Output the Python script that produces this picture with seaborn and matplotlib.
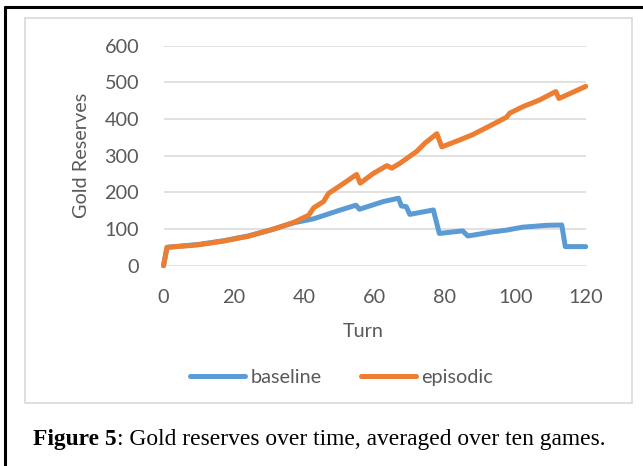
import matplotlib
matplotlib.use("Agg")
import matplotlib.pyplot as plt
import seaborn as sns
import pandas as pd
from matplotlib.lines import Line2D
from matplotlib.patches import Rectangle

# values (turn -> average gold)
baseline_turns = [0, 1, 10, 17, 24, 31, 37, 42.7, 50, 54.7, 55.7, 62.5, 66.8, 67.6, 69, 70,
                  76.7, 78.4, 85, 86.5, 92.7, 97.5, 102, 108.8, 113.2, 114.2, 120]
baseline_gold = [0, 50, 58, 68, 81, 99, 117, 128, 151, 165, 154, 175, 184, 163, 161, 140,
                 152, 88, 95, 81, 91, 97, 105, 110, 111, 52, 52]

episodic_turns = [0, 1, 10, 17, 24, 31, 37, 41.3, 42.7, 45.5, 46.9, 50.5, 54.9, 55.9, 59.7,
                  63.5, 64.9, 67.3, 72, 74.4, 77.7, 79.1, 84.2, 88, 92.7, 97.5, 98.4, 102.2,
                  106.9, 111.5, 112.4, 120]
episodic_gold = [0, 50, 57, 67, 80, 99, 118, 138, 158, 175, 197, 220, 249, 225, 252,
                 273, 266, 280, 312, 335, 360, 324, 343, 358, 381, 405, 416, 434,
                 452, 475, 456, 489]

series_names = ["baseline", "episodic"]
series_colors = ["#5B9BD5", "#ED7D31"]
x_ticks = [0, 20, 40, 60, 80, 100, 120]
y_ticks = [0, 100, 200, 300, 400, 500, 600]
caption_bold = "Figure 5"
caption_rest = ": Gold reserves over time, averaged over ten games."

sns.set_style("white")
plt.rcParams["font.family"] = ["Lato", "DejaVu Sans"]

W, H = 643, 466
fig = plt.figure(figsize=(W / 100, H / 100), dpi=100)
ax = fig.add_axes([163.5 / W, 1 - 265.7 / H, (585.7 - 163.5) / W, (265.7 - 45.7) / H])

df = pd.concat([
    pd.DataFrame({"Turn": baseline_turns, "Gold": baseline_gold, "series": "baseline"}),
    pd.DataFrame({"Turn": episodic_turns, "Gold": episodic_gold, "series": "episodic"}),
])

sns.lineplot(data=df, x="Turn", y="Gold", hue="series", hue_order=series_names,
             palette=series_colors, estimator=None, sort=False, lw=3.6,
             legend=False, ax=ax)
for ln in ax.get_lines():
    ln.set_clip_on(False)
    ln.set_solid_capstyle("round")
    ln.set_solid_joinstyle("round")
    ln.set_zorder(3)

ax.set_xlim(0, 120)
ax.set_ylim(0, 600)
ax.set_xticks(x_ticks)
ax.set_yticks(y_ticks)
ax.grid(axis="y", color="#D9D9D9", lw=1.1)
ax.grid(axis="x", visible=False)
for s in ax.spines.values():
    s.set_visible(False)
ax.tick_params(axis="y", length=0, pad=17.6, labelsize=14.3, labelcolor="#595959")
ax.tick_params(axis="x", length=0, pad=16.5, labelsize=14.3, labelcolor="#595959")
ax.set_xlabel("")
ax.set_ylabel("")

fig.text(81.7 / W, 1 - 155.5 / H, "Gold Reserves", rotation=90, ha="center", va="center",
         fontsize=14.3, color="#595959")
fig.text(363 / W, 1 - 331.7 / H, "Turn", ha="center", va="center",
         fontsize=14.3, color="#595959")

handles = [Line2D([], [], color=c, lw=3.6, solid_capstyle="round") for c in series_colors]
leg = ax.legend(handles, series_names, loc="center", ncol=2, frameon=False,
                bbox_to_anchor=(341.5 / W, 1 - 377.3 / H), bbox_transform=fig.transFigure,
                fontsize=14.3, handlelength=2.77, handletextpad=0.25, columnspacing=2.0,
                borderpad=0)
for t in leg.get_texts():
    t.set_color("#595959")

# chart frame and outer page frame
fig.add_artist(Rectangle((25 / W, 1 - 403 / H), (632 - 25) / W, (403 - 18) / H, fill=False,
                         ec="#D9D9D9", lw=1.2, transform=fig.transFigure))
fig.add_artist(Line2D([5 / W, 5 / W], [0, 1 - 6.7 / H], color="black", lw=2.2,
                      transform=fig.transFigure))
fig.add_artist(Line2D([5 / W, 1], [1 - 6.7 / H, 1 - 6.7 / H], color="black", lw=2.2,
                      transform=fig.transFigure))

# caption: bold part then regular part
t1 = fig.text(33 / W, 1 - 445 / H, caption_bold, fontweight="bold", va="baseline",
              family=["Liberation Serif"], fontsize=16.9, color="black")
fig.canvas.draw()
bb = t1.get_window_extent()
fig.text(bb.x1 / W, 1 - 445 / H, caption_rest, va="baseline",
         family=["Liberation Serif"], fontsize=16.9, color="black")

fig.savefig("out.png", dpi=100)
